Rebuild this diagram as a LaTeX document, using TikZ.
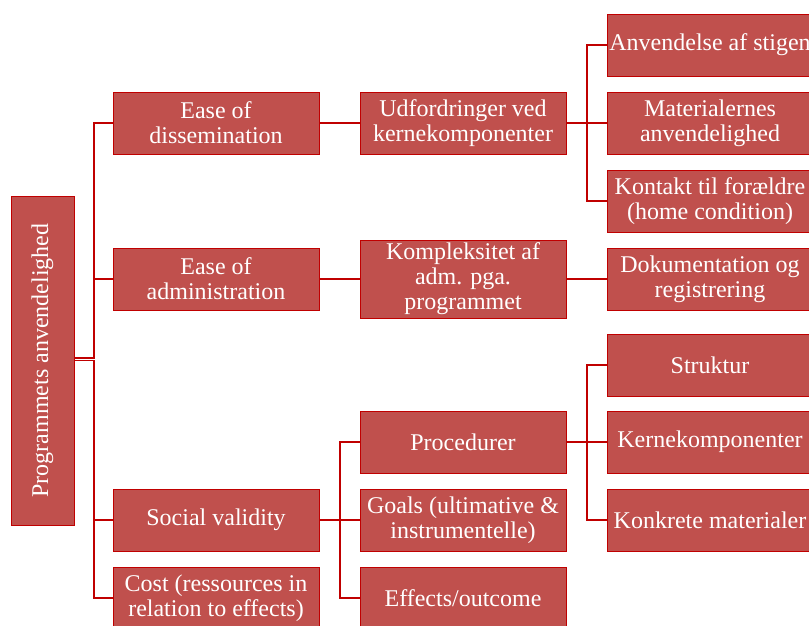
\documentclass[tikz,border=0pt]{standalone}
\usepackage{fontspec}
\setmainfont{Liberation Serif}
\usepackage{graphicx}
\usetikzlibrary{positioning}
\definecolor{boxred}{RGB}{192,80,77}
\definecolor{linered}{RGB}{192,0,0}

\begin{document}
\begin{tikzpicture}[
        node distance=12pt,
        item/.style={rectangle, draw=linered, fill=boxred, line width=0.75pt, outer sep=0pt, text=white, minimum width=154.5pt, minimum height=46.5pt, inner sep=1pt, align=center, font=\fontsize{18pt}{18.75pt}\selectfont},
        link/.style={draw=linered, line width=1.2pt},
        branch/.style={draw=linered, line width=0.8pt}
    ]
        \useasboundingbox (0,0) rectangle (606.75pt,-468.75pt);

        \node[item, minimum width=47.25pt, minimum height=246.75pt] (ROOT) at (31.875pt,-270.375pt) {\rotatebox{90}{Programmets anvendelighed}};

        % right column
        \node[item] (STIGEN) at (532.5pt,-33.75pt) {Anvendelse af stigen};
        \node[item, below=of STIGEN] (MAT) {Materialernes\\anvendelighed};
        \node[item, below=of MAT] (KONTAKT) {Kontakt til forældre\\(home condition)};
        \node[item, below=of KONTAKT] (DOK) {Dokumentation og\\registrering};
        \node[item, below=18pt of DOK] (STRUK) {Struktur};
        \node[item, below=11.25pt of STRUK] (KERNE) {Kernekomponenter};
        \node[item, below=of KERNE] (KONKRET) {Konkrete materialer};

        % middle column
        \node[item, left=30.75pt of MAT] (UDF) {Udfordringer ved\\kernekomponenter};
        \node[item, left=30.75pt of DOK, minimum height=58.5pt] (KOMP) {Kompleksitet af\\adm. pga.\\programmet};
        \node[item, left=30.75pt of KERNE] (PROC) {Procedurer};
        \node[item, below=of PROC] (GOALS) {Goals (ultimative \&\\instrumentelle)};
        \node[item, below=12pt of GOALS] (EFFECTS) {Effects/outcome};

        % left column
        \node[item, left=30.75pt of UDF] (EOD) {Ease of\\dissemination};
        \node[item, left=30.75pt of KOMP] (EOA) {Ease of\\administration};
        \node[item, left=30.75pt of GOALS] (SOC) {Social validity};
        \node[item, below=12pt of SOC] (COST) {Cost (ressources in\\relation to effects)};

        \draw[branch] ([yshift=1.9pt]ROOT.east) -- ++(15pt,0) |- (EOD.west);
        \draw[branch] ([yshift=1.9pt]ROOT.east) -- ++(15pt,0) |- (EOA.west);
        \draw[branch] (ROOT.east) -- ++(15pt,0) |- (SOC.west);
        \draw[branch] (ROOT.east) -- ++(15pt,0) |- (COST.west);

        \draw[link] (EOD) -- (UDF);
        \draw[link] (EOA) -- (KOMP);
        \draw[link] (KOMP) -- (DOK);

        \draw[branch] (UDF.east) -- ++(15.75pt,0) |- (STIGEN.west);
        \draw[link] (UDF.east) -- (MAT.west);
        \draw[branch] (UDF.east) -- ++(15.75pt,0) |- (KONTAKT.west);

        \draw[branch] (SOC.east) -- ++(15.75pt,0) |- (PROC.west);
        \draw[link] (SOC.east) -- (GOALS.west);
        \draw[branch] (SOC.east) -- ++(15.75pt,0) |- (EFFECTS.west);

        \draw[branch] (PROC.east) -- ++(15.75pt,0) |- (STRUK.west);
        \draw[link] (PROC.east) -- (KERNE.west);
        \draw[branch] (PROC.east) -- ++(15.75pt,0) |- (KONKRET.west);
    \end{tikzpicture}
\end{document}
